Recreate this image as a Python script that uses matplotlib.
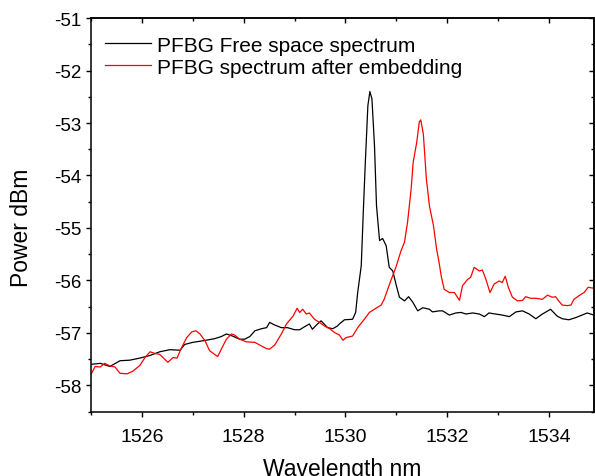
import matplotlib
matplotlib.use("Agg")
import matplotlib.pyplot as plt
from matplotlib.ticker import MultipleLocator

plt.rcParams["font.family"] = ["Liberation Sans", "DejaVu Sans"]
plt.rcParams["axes.unicode_minus"] = False

# PFBG free space spectrum (black)
free_wl = [1525.00, 1525.18, 1525.37, 1525.57, 1525.76, 1525.96, 1526.16, 1526.35,
           1526.55, 1526.75, 1526.84, 1527.00, 1527.20, 1527.43, 1527.56, 1527.66,
           1527.78, 1527.92, 1528.02, 1528.12, 1528.22, 1528.35, 1528.45, 1528.51,
           1528.61, 1528.74, 1528.86, 1529.00, 1529.10, 1529.20, 1529.29, 1529.35,
           1529.45, 1529.52, 1529.65, 1529.75, 1529.84, 1529.88, 1529.98, 1530.14,
           1530.20, 1530.24, 1530.31, 1530.35, 1530.39, 1530.44, 1530.48, 1530.52,
           1530.57, 1530.61, 1530.67, 1530.73, 1530.80, 1530.86, 1530.93, 1531.00,
           1531.06, 1531.16, 1531.24, 1531.32, 1531.42, 1531.52, 1531.65, 1531.71,
           1531.84, 1531.91, 1532.04, 1532.17, 1532.27, 1532.37, 1532.50, 1532.63,
           1532.73, 1532.82, 1532.95, 1533.08, 1533.22, 1533.35, 1533.48, 1533.61,
           1533.74, 1533.87, 1534.03, 1534.16, 1534.26, 1534.39, 1534.52, 1534.65,
           1534.75, 1534.88]
free_pw = [-57.60, -57.58, -57.64, -57.53, -57.52, -57.48, -57.43, -57.36,
           -57.32, -57.33, -57.22, -57.18, -57.15, -57.11, -57.07, -57.02,
           -57.06, -57.12, -57.12, -57.07, -56.96, -56.92, -56.90, -56.80,
           -56.85, -56.90, -56.90, -56.94, -56.94, -56.88, -56.83, -56.93,
           -56.83, -56.77, -56.90, -56.92, -56.87, -56.83, -56.75, -56.74,
           -56.61, -56.23, -55.72, -54.70, -53.75, -52.67, -52.40, -52.54,
           -53.43, -54.58, -55.24, -55.20, -55.34, -55.75, -55.82, -56.10,
           -56.32, -56.39, -56.31, -56.41, -56.58, -56.52, -56.55, -56.60,
           -56.58, -56.58, -56.66, -56.62, -56.61, -56.64, -56.62, -56.64,
           -56.69, -56.62, -56.64, -56.66, -56.69, -56.60, -56.58, -56.64,
           -56.73, -56.64, -56.55, -56.68, -56.73, -56.75, -56.71, -56.66,
           -56.62, -56.66]

# PFBG spectrum after embedding (red)
emb_wl = [1525.00, 1525.08, 1525.18, 1525.27, 1525.37, 1525.47, 1525.57, 1525.71,
          1525.82, 1525.96, 1526.06, 1526.16, 1526.25, 1526.35, 1526.51, 1526.61,
          1526.69, 1526.78, 1526.88, 1526.98, 1527.06, 1527.14, 1527.24, 1527.33,
          1527.43, 1527.49, 1527.56, 1527.66, 1527.76, 1527.82, 1527.92, 1528.05,
          1528.22, 1528.35, 1528.45, 1528.51, 1528.61, 1528.74, 1528.84, 1528.97,
          1529.05, 1529.10, 1529.16, 1529.23, 1529.29, 1529.39, 1529.49, 1529.59,
          1529.69, 1529.78, 1529.88, 1529.95, 1530.01, 1530.14, 1530.24, 1530.37,
          1530.47, 1530.60, 1530.70, 1530.76, 1530.83, 1530.90, 1530.99, 1531.09,
          1531.16, 1531.22, 1531.29, 1531.33, 1531.40, 1531.45, 1531.48, 1531.53,
          1531.59, 1531.65, 1531.73, 1531.79, 1531.84, 1531.88, 1531.94, 1532.04,
          1532.14, 1532.24, 1532.30, 1532.40, 1532.46, 1532.53, 1532.63, 1532.69,
          1532.76, 1532.84, 1532.92, 1533.02, 1533.08, 1533.14, 1533.20, 1533.28,
          1533.38, 1533.48, 1533.54, 1533.64, 1533.74, 1533.87, 1533.97, 1534.06,
          1534.13, 1534.19, 1534.26, 1534.36, 1534.43, 1534.49, 1534.59, 1534.69,
          1534.77, 1534.88]
emb_pw = [-57.79, -57.64, -57.65, -57.58, -57.63, -57.65, -57.77, -57.78,
          -57.73, -57.62, -57.47, -57.36, -57.39, -57.41, -57.56, -57.47,
          -57.48, -57.28, -57.09, -56.98, -56.96, -57.02, -57.15, -57.34,
          -57.41, -57.45, -57.31, -57.12, -57.02, -57.04, -57.12, -57.17,
          -57.18, -57.25, -57.30, -57.31, -57.23, -57.02, -56.83, -56.68,
          -56.53, -56.61, -56.55, -56.64, -56.62, -56.74, -56.80, -56.87,
          -56.92, -56.99, -57.04, -57.14, -57.09, -57.06, -56.90, -56.74,
          -56.61, -56.53, -56.47, -56.36, -56.17, -55.98, -55.75, -55.44,
          -55.27, -54.89, -54.26, -53.75, -53.37, -52.98, -52.94, -53.21,
          -54.07, -54.58, -54.96, -55.40, -55.66, -55.91, -56.17, -56.23,
          -56.23, -56.38, -56.10, -55.98, -55.94, -55.75, -55.82, -55.80,
          -55.98, -56.23, -56.07, -56.01, -56.04, -55.92, -56.13, -56.32,
          -56.39, -56.38, -56.31, -56.34, -56.34, -56.36, -56.28, -56.32,
          -56.31, -56.39, -56.47, -56.48, -56.47, -56.36, -56.29, -56.23,
          -56.13, -56.15]

labels = ["PFBG Free space spectrum", "PFBG spectrum after embedding"]

fig = plt.figure(figsize=(5.95, 4.77), dpi=100)
ax = fig.add_axes([0.153, 0.135, 0.845, 0.825])

ax.plot(free_wl, free_pw, color="black", lw=0.9, label=labels[0])
ax.plot(emb_wl, emb_pw, color="red", lw=0.9, label=labels[1])

ax.set_xlim(1525, 1534.88)
ax.set_ylim(-58.5, -51)
ax.xaxis.set_major_locator(MultipleLocator(2))
ax.xaxis.set_minor_locator(MultipleLocator(1))
ax.yaxis.set_major_locator(MultipleLocator(1))
ax.yaxis.set_minor_locator(MultipleLocator(0.5))

for side in ax.spines.values():
    side.set_linewidth(1.1)

# outward ticks on bottom/left, inward on top/right
ax.tick_params(which="both", direction="out", width=1.0, top=False, right=False)
ax.tick_params(which="major", length=3.8)
ax.tick_params(which="minor", length=2.2)
ax.tick_params(axis="x", labelsize=14, pad=8)
ax.tick_params(axis="y", labelsize=13.5, pad=3)

sec_x = ax.secondary_xaxis("top")
sec_x.xaxis.set_major_locator(MultipleLocator(2))
sec_x.xaxis.set_minor_locator(MultipleLocator(1))
sec_x.tick_params(which="both", direction="in", labeltop=False, width=1.0)
sec_x.tick_params(which="major", length=3.8)
sec_x.tick_params(which="minor", length=2.2)
sec_x.spines["top"].set_linewidth(1.1)

sec_y = ax.secondary_yaxis("right")
sec_y.yaxis.set_major_locator(MultipleLocator(1))
sec_y.yaxis.set_minor_locator(MultipleLocator(0.5))
sec_y.tick_params(which="both", direction="in", labelright=False, width=1.0)
sec_y.tick_params(which="major", length=3.8)
sec_y.tick_params(which="minor", length=2.2)
sec_y.spines["right"].set_linewidth(1.1)

ax.set_xlabel("Wavelength nm", fontsize=16.5)
ax.set_ylabel("Power dBm", fontsize=16.5)
ax.xaxis.set_label_coords(0.5, -0.115)
ax.yaxis.set_label_coords(-0.115, 0.47)

ax.legend(loc="upper left", bbox_to_anchor=(0.02, 0.966), frameon=False,
          fontsize=15, handlelength=2.2, handletextpad=0.3,
          labelspacing=0.15, borderpad=0.2, borderaxespad=0)

fig.savefig("out.png", dpi=100)
